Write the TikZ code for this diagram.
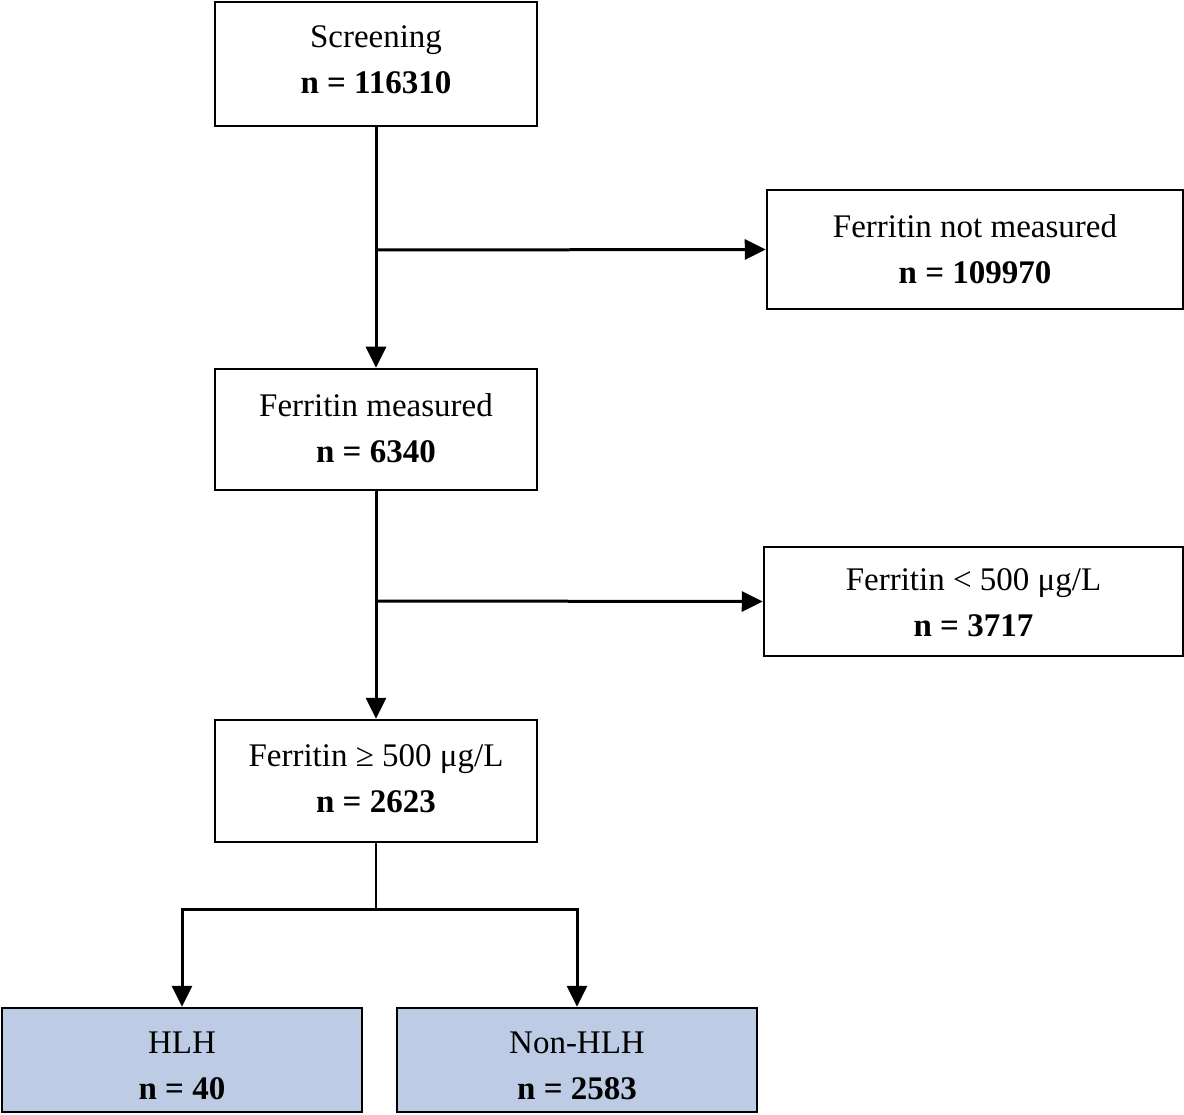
\documentclass[tikz,border=0pt]{standalone}
\usepackage{fontspec}
\setmainfont{Liberation Serif}
\usetikzlibrary{arrows.meta}
\definecolor{boxblue}{RGB}{189,204,228}
\begin{document}
\begin{tikzpicture}[x=1pt,y=-1pt,
  box/.style={draw, line width=2.5pt, rectangle, inner sep=0pt},
  txt/.style={inner sep=0pt, align=center, font=\fontsize{33}{46}\selectfont},
  arr/.style={line width=3pt, -{Triangle[length=21pt,width=20pt]}}]
\useasboundingbox (0,0) rectangle (1184,1115);
\node[box, minimum width=322pt, minimum height=124pt] (scr) at (376,64) {};
\node[txt] (scrt) at (376,60) {Screening\\\textbf{n = 116310}};
\node[box, minimum width=416pt, minimum height=119pt] (fnm) at (975,249.5) {};
\node[txt] (fnmt) at (975,249.5) {Ferritin not measured\\\textbf{n = 109970}};
\node[box, minimum width=322pt, minimum height=121pt] (fm) at (376,429.5) {};
\node[txt] (fmt) at (376,428) {Ferritin measured\\\textbf{n = 6340}};
\node[box, minimum width=419pt, minimum height=109pt] (flo) at (973.5,601.5) {};
\node[txt] (flot) at (973.5,603) {Ferritin < 500 μg/L\\\textbf{n = 3717}};
\node[box, minimum width=322pt, minimum height=122pt] (fhi) at (376,781) {};
\node[txt] (fhit) at (376,779) {Ferritin ≥ 500 μg/L\\\textbf{n = 2623}};
\node[box, fill=boxblue, minimum width=360pt, minimum height=104pt] (hlh) at (182,1060) {};
\node[txt] (hlht) at (182,1066) {HLH\\\textbf{n = 40}};
\node[box, fill=boxblue, minimum width=360pt, minimum height=104pt] (non) at (577,1060) {};
\node[txt] (nont) at (577,1066) {Non-HLH\\\textbf{n = 2583}};
\coordinate (b1) at (376,250);
\coordinate (b2) at (376,601);
\coordinate (b3) at (376,909);
\draw[arr] (scr.south) -- (fm.north);
\draw[arr] (b1) -- (fnm.west);
\draw[arr] (fm.south) -- (fhi.north);
\draw[arr] (b2) -- (flo.west);
\draw[line width=2pt] (fhi.south) -- (b3);
\draw[arr] (b3) -| (hlh.north);
\draw[arr] (b3) -| (non.north);
\end{tikzpicture}
\end{document}
